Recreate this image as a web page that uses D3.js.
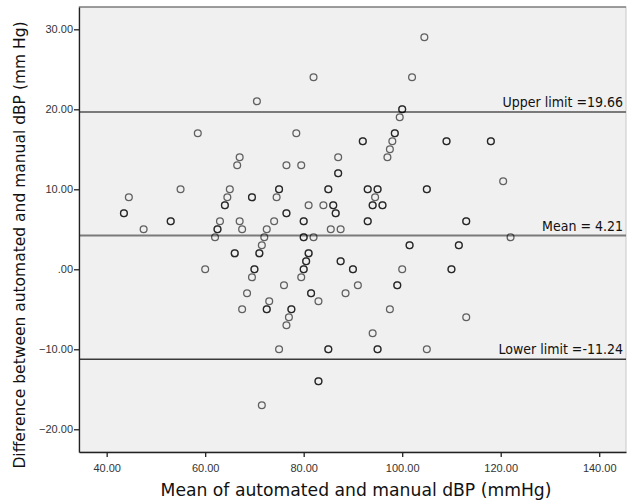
<!DOCTYPE html>
<html>
<head>
<meta charset="utf-8">
<script src="https://cdn.jsdelivr.net/npm/d3@7"></script>
<style>
  body { margin: 0; background: #fff; }
  svg { display: block; }
</style>
</head>
<body>
<svg width="627" height="501"></svg>
<script>
// mean of the two readings, one entry per subject (darker rings = repeated pairs)
var meanVals = [44.5, 43.5, 43.5, 47.5, 55, 53, 53, 58.5, 60, 62, 62.5, 62.5, 63, 64, 64, 64.5, 65,
  66.5, 67, 67, 67.5, 66, 66, 69.5, 69.5, 70.5, 70, 70, 69.5, 68.5, 67.5, 71, 71, 71.5, 72, 72.5,
  74, 74.5, 75, 75, 72.5, 72.5, 73, 71.5, 75, 76.5, 76.5, 76.5, 76, 77.5, 77.5, 77, 76.5, 78.5,
  79.5, 80, 80, 80, 80, 81, 82, 82, 79.5, 80, 80, 80.5, 80.5, 81, 81, 81.5, 81.5, 83, 83, 83,
  84, 85, 85, 85.5, 85, 85, 86, 86, 86.5, 86.5, 87, 87, 87, 87.5, 87.5, 87.5, 88.5, 90, 90, 91,
  92, 92, 93, 93, 93, 93, 94, 94, 94.5, 95, 95, 96, 96, 94, 95, 95, 97, 97.5, 98, 98.5, 98.5,
  99.5, 100, 100, 97.5, 99, 99, 100, 101.5, 101.5, 102, 104.5, 105, 105, 105, 109, 109, 110, 110,
  111.5, 111.5, 113, 113, 113, 118, 118, 120.5, 122];

// automated minus manual dBP, same order
var diffVals = [9, 7, 7, 5, 10, 6, 6, 17, 0, 4, 5, 5, 6, 8, 8, 9, 10,
  13, 14, 6, 5, 2, 2, 9, 9, 21, 0, 0, -1, -3, -5, 2, 2, 3, 4, 5,
  6, 9, 10, 10, -5, -5, -4, -17, -10, 13, 7, 7, -2, -5, -5, -6, -7, 17,
  13, 6, 6, 4, 4, 8, 4, 24, -1, 0, 0, 1, 1, 2, 2, -3, -3, -4, -14, -14,
  8, 10, 10, 5, -10, -10, 8, 8, 7, 7, 14, 12, 12, 5, 1, 1, -3, 0, 0, -2,
  16, 16, 10, 10, 6, 6, 8, 8, 9, 10, 10, 8, 8, -8, -10, -10, 14, 15, 16, 17, 17,
  19, 20, 20, -5, -2, -2, 0, 3, 3, 24, 29, 10, 10, -10, 16, 16, 0, 0,
  3, 3, 6, 6, -6, 16, 16, 11, 4];

var xTicks = [40, 60, 80, 100, 120, 140];
var yTicks = [-20, -10, 0, 10, 20, 30];

var limitVals = [19.66, 4.21, -11.24];
var limitLabels = ['Upper limit =19.66', 'Mean = 4.21', 'Lower limit =-11.24'];

var points = meanVals.map((m, i) => ({ m: m, d: diffVals[i] }));

var margin = { top: 7, right: 1, bottom: 49, left: 79 },
    width = 627 - margin.left - margin.right,
    height = 501 - margin.top - margin.bottom;

var svg = d3.select('svg');
var g = svg.append('g')
    .attr('transform', 'translate(' + margin.left + ',' + margin.top + ')');

var x = d3.scaleLinear()
    .domain([34.38, 145.44])
    .range([0, width]);

var y = d3.scaleLinear()
    .domain([-22.84, 32.79])
    .range([height, 0]);

var fmt = d3.format('.2f');
var spss = (v) => fmt(v).replace(/^(-?)0\./, '$1.');

// plot background
g.append('rect')
    .attr('width', width)
    .attr('height', height)
    .attr('fill', '#f0f0f0')
    .attr('stroke', '#c8c8c8');

g.append('line')
    .attr('x1', 0).attr('x2', width)
    .attr('y1', 0).attr('y2', 0)
    .attr('stroke', '#555');

// limit lines
g.selectAll('.limit')
    .data(limitVals)
    .enter().append('line')
    .attr('x1', 0).attr('x2', width)
    .attr('y1', (d) => y(d)).attr('y2', (d) => y(d))
    .attr('stroke', (d, i) => i == 2 ? '#3a3a3a' : '#7a7a7a')
    .attr('stroke-width', (d, i) => i == 2 ? 1.5 : 2);

g.selectAll('.limitLabel')
    .data(limitVals)
    .enter().append('text')
    .attr('x', width - 3)
    .attr('y', (d) => y(d) - 5)
    .attr('text-anchor', 'end')
    .attr('font-family', 'DejaVu Sans Condensed, DejaVu Sans')
    .attr('font-stretch', 'condensed')
    .attr('font-size', 14)
    .attr('fill', '#111')
    .text((d, i) => limitLabels[i]);

// points
g.selectAll('circle')
    .data(points)
    .enter().append('circle')
    .attr('cx', (d) => x(d.m))
    .attr('cy', (d) => y(d.d))
    .attr('r', 3.4)
    .attr('fill', 'none')
    .attr('stroke', '#000')
    .attr('stroke-opacity', 0.6)
    .attr('stroke-width', 1.3);

// axes
var xAxis = d3.axisBottom(x).tickValues(xTicks).tickFormat(spss).tickSize(5).tickSizeOuter(0);
var yAxis = d3.axisLeft(y).tickValues(yTicks).tickFormat(spss).tickSize(5).tickSizeOuter(0);

var gx = g.append('g')
    .attr('transform', 'translate(0,' + height + ')')
    .call(xAxis);
var gy = g.append('g').call(yAxis);

[gx, gy].forEach((a) => {
  a.select('.domain').attr('stroke', '#222').attr('stroke-width', 1.3);
  a.selectAll('.tick line').attr('stroke', '#222').attr('stroke-width', 1.3);
  a.selectAll('.tick text')
      .attr('font-family', 'Liberation Sans, Arial, sans-serif')
      .attr('font-size', 11)
      .attr('fill', '#333');
});
gx.selectAll('.tick text').attr('dy', '1.1em');
gy.selectAll('.tick text').attr('x', -6);

// axis titles
svg.append('text')
    .attr('x', 356)
    .attr('y', 496)
    .attr('text-anchor', 'middle')
    .attr('font-family', 'DejaVu Sans')
    .attr('font-size', 17.2)
    .attr('fill', '#111')
    .text('Mean of automated and manual dBP (mmHg)');

svg.append('text')
    .attr('transform', 'translate(25,245) rotate(-90)')
    .attr('text-anchor', 'middle')
    .attr('font-family', 'DejaVu Sans')
    .attr('font-size', 15.5)
    .attr('fill', '#111')
    .text('Difference between automated and manual dBP (mm Hg)');
</script>
</body>
</html>
